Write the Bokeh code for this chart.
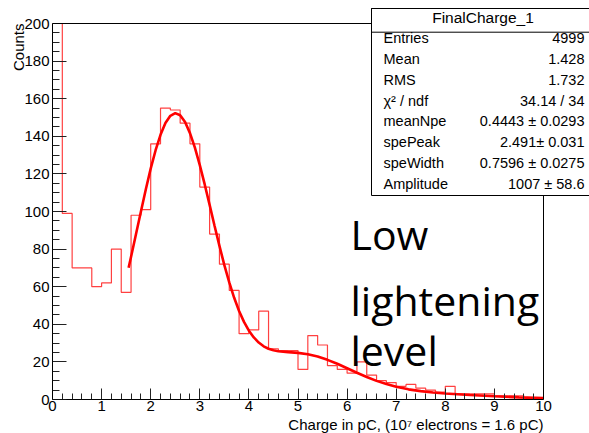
import numpy as np
from bokeh.plotting import figure
from bokeh.models import Range1d, Label, BoxAnnotation, FixedTicker, Title
from bokeh.embed import file_html
from bokeh.resources import INLINE

# ---------------- data ----------------
bin_width = 0.2
x_min, x_max = 0.0, 10.0
y_min, y_max = 0.0, 200.0
counts = [2809, 99, 70, 70, 60, 62, 80, 57, 98, 101,
          136, 155, 154, 147, 136, 113, 88, 72, 58, 35,
          37, 47, 27, 26, 26, 16, 34, 29, 18, 16,
          14, 20, 13, 10, 9, 7, 8, 6, 5, 4,
          7, 3, 3, 3, 3, 2, 2, 2, 1, 1]

fit_x = [1.55, 1.6, 1.7, 1.8, 1.9, 2.0, 2.1, 2.2, 2.3, 2.4, 2.5, 2.6, 2.7, 2.8, 2.9,
         3.0, 3.1, 3.2, 3.3, 3.4, 3.5, 3.6, 3.7, 3.8, 3.9, 4.0, 4.1, 4.2, 4.3, 4.4,
         4.5, 4.6, 4.8, 5.0, 5.2, 5.4, 5.6, 5.8, 6.0, 6.2, 6.4, 6.6, 6.8, 7.0, 7.25,
         7.5, 7.75, 8.0, 8.5, 9.0, 9.5, 10.0]
fit_y = [70.1, 75.9, 87.9, 99.9, 111.7, 122.8, 132.6, 140.8, 147.1, 150.9, 152.3, 151.2,
         147.6, 141.7, 134.0, 124.7, 114.4, 103.5, 92.4, 81.7, 71.5, 62.3, 54.1, 47.1,
         41.3, 36.6, 33.0, 30.3, 28.3, 27.0, 26.2, 25.7, 25.2, 24.8, 24.1, 22.9, 21.1,
         19.0, 16.65, 14.25, 12.0, 9.9, 8.2, 6.8, 5.4, 4.45, 3.75, 3.2, 2.4, 1.7, 1.15, 0.75]

x_ticks = [0, 1, 2, 3, 4, 5, 6, 7, 8, 9, 10]
y_ticks = [0, 20, 40, 60, 80, 100, 120, 140, 160, 180, 200]

stats_title = "FinalCharge_1"
stats_names = ["Entries", "Mean", "RMS", "\u03c7\u00b2 / ndf", "meanNpe", "spePeak", "speWidth", "Amplitude"]
stats_values = ["4999", "1.428", "1.732", "34.14 / 34", "0.4443 \u00b1 0.0293",
                "2.491\u00b1 0.031", "0.7596 \u00b1 0.0275", "1007 \u00b1 58.6"]

note_lines = ["Low", "lightening", "level"]
x_title = "Charge in pC, (10\u2077 electrons = 1.6 pC)"
y_title = "Counts"

# ---------------- layout (page pixels; the page has no margin) ----------------
W, H = 589, 433
FL, FR, FT, FB = 52, 589, 0, 399          # frame edges
X0PX, X1PX = 52.0, 543.0                  # where x=0 and x=10 sit
Y0PX, Y1PX = 399.0, 23.0                  # where y=0 and y=200 sit
sx = (x_max - x_min) / (X1PX - X0PX)
sy = (y_max - y_min) / (Y0PX - Y1PX)
def dx(px):
    return x_min + (px - X0PX) * sx
def dy(py):
    return y_min + (Y0PX - py) * sy
BASE = 0.44   # measured offset of the rendered baseline below the anchor, in em
def text_at(px, baseline_py, txt, size, font="Liberation Sans", align="left"):
    return Label(x=dx(px), y=dy(baseline_py - BASE * size), text=txt, text_font=font,
                 text_font_size=f"{size}px", text_align=align, text_baseline="alphabetic",
                 text_color="black")

p = figure(width=W, height=H, output_backend="svg", toolbar_location=None,
           x_range=Range1d(dx(FL), dx(FR)), y_range=Range1d(dy(FB), dy(FT)),
           min_border_left=FL, min_border_right=W - FR, min_border_top=FT,
           min_border_bottom=H - FB, title=None)
p.background_fill_color = "white"
p.border_fill_color = "white"
p.outline_line_color = None
p.xgrid.visible = False
p.ygrid.visible = False

# histogram outline (drawn clipped at the top of the axis, as in the original)
edges = list(np.round(np.arange(len(counts) + 1) * bin_width + x_min, 6))
shown = list(np.minimum(counts, y_max))
p.step(x=edges, y=shown + [shown[-1]], mode="after", line_color="#ff0000",
       line_width=1.2, line_alpha=0.75)
# fit curve
p.line(fit_x, fit_y, line_color="#ff0000", line_width=2.6)

# axes
def minors(ticks, n):
    out = []
    for a, b in zip(ticks[:-1], ticks[1:]):
        out += list(np.linspace(a, b, n + 1)[1:-1])
    return out
p.xaxis.ticker = FixedTicker(ticks=x_ticks, minor_ticks=minors(x_ticks, 5))
p.yaxis.ticker = FixedTicker(ticks=y_ticks, minor_ticks=minors(y_ticks, 4))
p.xaxis.bounds = (x_min, x_max)
p.yaxis.bounds = (y_min, y_max)
for ax, (mi, mn) in ((p.xaxis[0], (11, 6)), (p.yaxis[0], (14, 7))):
    ax.major_tick_in = mi
    ax.major_tick_out = 0
    ax.minor_tick_in = mn
    ax.minor_tick_out = 0
    ax.axis_line_color = "black"
    ax.major_tick_line_color = "#222222"
    ax.minor_tick_line_color = "#222222"
    ax.major_label_text_font = "Liberation Sans"
    ax.major_label_text_font_size = "15px"
    ax.major_label_text_color = "black"
p.xaxis.major_label_standoff = 1
p.yaxis.major_label_standoff = 3

# frame (top and right edges)
p.add_layout(BoxAnnotation(left=x_min, right=x_max, bottom=y_min, top=y_max,
                           fill_alpha=0.0, line_color="black", line_width=1, line_alpha=1.0))

# axis titles (ROOT style: at the far end of each axis)
p.add_layout(Title(text=x_title, align="right", offset=FR - X1PX, standoff=0,
                   text_font="Liberation Sans", text_font_size="15px",
                   text_font_style="normal", text_color="black"), "below")
p.add_layout(Title(text=y_title, align="right", offset=Y1PX - FT, standoff=-10,
                   text_font="Liberation Sans", text_font_size="15px",
                   text_font_style="normal", text_color="black"), "left")

# annotation text
for txt, by in zip(note_lines, [251.7, 318, 368]):
    p.add_layout(text_at(350, by, txt, 41, font="Open Sans"))

# stats box
box_l, box_r, box_t, box_sep, box_b = dx(371), dx(620), dy(8), dy(31.7), dy(195)
p.add_layout(BoxAnnotation(left=box_l, right=box_r, top=box_t, bottom=box_b,
                           fill_color="white", fill_alpha=1.0, line_color="black",
                           line_width=1, line_alpha=1.0))
p.add_layout(BoxAnnotation(left=box_l, right=box_r, top=box_t, bottom=box_sep,
                           fill_alpha=0.0, line_color="black", line_width=1, line_alpha=1.0))
p.add_layout(text_at(482.5, 24.0, stats_title, 15.5, align="center"))
for i, (nm, vl) in enumerate(zip(stats_names, stats_values)):
    by = 44 + 20.8 * i
    p.add_layout(text_at(383, by, nm, 14.5))
    p.add_layout(text_at(584, by, vl, 14.5, align="right"))

open("out.html", "w").write(file_html(p, INLINE))
